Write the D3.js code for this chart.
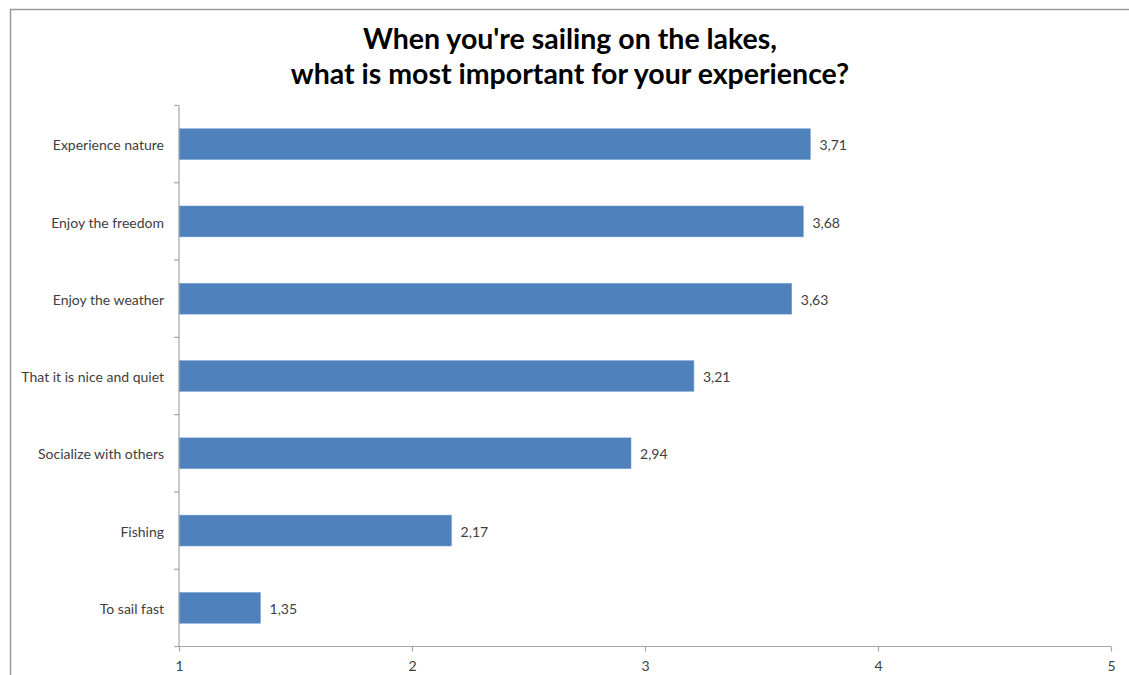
<!DOCTYPE html>
<html><head><meta charset="utf-8">
<script src="https://cdn.jsdelivr.net/npm/d3@7"></script>
<style>body{margin:0;background:#fff}svg{display:block}</style>
</head><body><svg id="c" width="1129" height="675"></svg>
<script>
const categories = ["Experience nature","Enjoy the freedom","Enjoy the weather","That it is nice and quiet","Socialize with others","Fishing","To sail fast"];
const values = [3.71,3.68,3.63,3.21,2.94,2.17,1.35];
const xTicks = [1,2,3,4,5];
const titleLines = ["When you're sailing on the lakes,","what is most important for your experience?"];

const svg = d3.select("#c");
svg.append("rect").attr("x",10.5).attr("y",9.5).attr("width",1140).attr("height",700)
  .attr("fill","none").attr("stroke","#9a9a9a").attr("stroke-width",1.5);

const x = d3.scaleLinear().domain([1,5]).range([179,1111]);
const y = d3.scaleBand().domain(categories).range([105.5,646.5]).paddingInner(0.6).paddingOuter(0.3);
const yAxisScale = d3.scaleBand().domain(categories).range([105.5,646.5]);

const font = "Lato, 'Open Sans', sans-serif";
svg.append("text").attr("x",570).attr("text-anchor","middle").attr("font-family",font)
  .attr("font-weight","bold").attr("font-size",28.5).attr("fill","#000")
  .selectAll("tspan").data(titleLines).join("tspan")
  .attr("x",570).attr("y",(d,i)=>49+i*35).text(d=>d);

svg.append("g").selectAll("rect").data(values).join("rect")
  .attr("x",x(1)).attr("y",(d,i)=>y(categories[i]))
  .attr("width",d=>x(d)-x(1)).attr("height",y.bandwidth())
  .attr("fill","#4f81bd").attr("stroke","#7ea6d6").attr("stroke-width",0.5);

svg.append("g").selectAll("text").data(values).join("text")
  .attr("x",d=>x(d)+9).attr("y",(d,i)=>y(categories[i])+y.bandwidth()/2+2)
  .attr("dy","0.3em").attr("font-family",font).attr("font-size",14).attr("fill","#404040")
  .text(d=>d.toFixed(2).replace(".",","));

// y axis
const ya = svg.append("g");
ya.append("line").attr("x1",179).attr("x2",179).attr("y1",105.5).attr("y2",646.5).attr("stroke","#a6a6a6").attr("stroke-width",1.2);
const yTickPos = categories.map(c=>yAxisScale(c)).concat([646.5]);
ya.selectAll("line.t").data(yTickPos).join("line").attr("class","t")
  .attr("x1",174).attr("x2",179).attr("y1",d=>d).attr("y2",d=>d).attr("stroke","#a6a6a6").attr("stroke-width",1.2);
ya.selectAll("text").data(categories).join("text")
  .attr("x",164).attr("y",c=>yAxisScale(c)+yAxisScale.bandwidth()/2+2).attr("dy","0.3em")
  .attr("text-anchor","end").attr("font-family",font).attr("font-size",14).attr("fill","#404040").text(d=>d);

// x axis
const xa = svg.append("g").attr("transform","translate(0,646.5)");
xa.call(d3.axisBottom(x).tickValues(xTicks).tickSize(5).tickPadding(10).tickFormat(d3.format("d")));
xa.select(".domain").attr("stroke","#a6a6a6").attr("stroke-width",1.2).attr("d","M179,0H1111");
xa.selectAll(".tick line").attr("stroke","#a6a6a6").attr("stroke-width",1.2);
xa.selectAll(".tick text").attr("font-family",font).attr("font-size",14).attr("fill","#404040");
</script></body></html>
